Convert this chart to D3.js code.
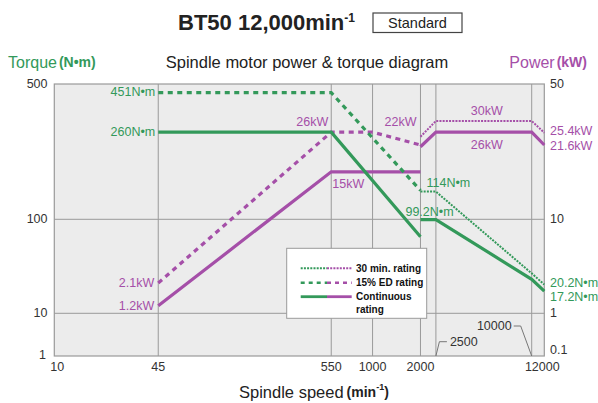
<!DOCTYPE html>
<html>
<head>
<meta charset="utf-8">
<script src="https://cdn.jsdelivr.net/npm/d3@7"></script>
<style>
  body { margin: 0; background: #fff; }
  svg { font-family: "Liberation Sans", Arial, sans-serif; }
</style>
</head>
<body>
<div class="chart"></div>
<script>
// axis ticks
const speedTicks = [10, 45, 550, 1000, 2000, 12000];
const gridSpeeds = [45, 550, 1000, 2000, 2500, 10000];
const torqueTicks = [500, 100, 10, 1];
const powerTicks = [50, 10, 1, 0.1];

// series [speed, value]
const torque30min = [[2000, 139], [2500, 139], [10000, 26.6], [12000, 20.2]];
const torqueED15 = [[45, 451], [550, 451], [2000, 141]];
const torqueContLow = [[45, 282], [550, 282], [2000, 65.3]];
const torqueContHigh = [[2000, 99.2], [2500, 99.2], [10000, 23], [12000, 17.2]];
const power30min = [[2000, 26.7], [2500, 32.2], [10000, 32.2], [12000, 28.0]];
const powerED15 = [[45, 2.1], [550, 28.2], [1000, 28.2], [2000, 24.2]];
const powerContLow = [[45, 1.2], [550, 17.6], [2000, 17.6]];
const powerContHigh = [[2000, 23.7], [2500, 28.2], [10000, 28.2], [12000, 24.2]];

const green = "#33995a";
const purple = "#a54fa8";

const W = 598, H = 403;
const plotL = 54.3, plotR = 544.3, plotT = 84, plotB = 356;

const svg = d3.select(".chart").append("svg")
  .attr("width", W).attr("height", H);

// x is log, y is a stretched log (each decade has its own height)
const x = d3.scaleLog().domain([10, 12000]).range([plotL, plotR]);
const yTl = d3.scaleLinear().domain([0, 1, 2, Math.log10(500)]).range([plotB, 313.3, 219.3, plotT]);
const yPl = d3.scaleLinear().domain([-1, 0, 1, Math.log10(50)]).range([plotB, 313.3, 219.3, plotT]);
const yT = v => yTl(Math.log10(v));
const yP = v => yPl(Math.log10(v));

// plot area
svg.append("rect")
  .attr("x", plotL).attr("y", plotT)
  .attr("width", plotR - plotL).attr("height", plotB - plotT)
  .attr("fill", "#ececec").attr("stroke", "#9a9a9a").attr("stroke-width", 1.2);

svg.selectAll(".vgrid").data(gridSpeeds).enter().append("line")
  .attr("x1", d => x(d)).attr("x2", d => x(d))
  .attr("y1", plotT).attr("y2", plotB)
  .attr("stroke", "#9a9a9a").attr("stroke-width", 1);

svg.selectAll(".hgrid").data([100, 10]).enter().append("line")
  .attr("x1", plotL).attr("x2", plotR)
  .attr("y1", d => yT(d)).attr("y2", d => yT(d))
  .attr("stroke", "#9a9a9a").attr("stroke-width", 1);

// axes labels
const tickFont = "12.5px";
svg.selectAll(".tl").data(torqueTicks).enter().append("text")
  .attr("x", d => d === 1 ? 46 : 47.5).attr("y", d => yT(d) - (d === 1 ? 1 : 0))
  .attr("text-anchor", "end").attr("dominant-baseline", "central")
  .attr("font-size", tickFont).attr("fill", "#333").text(d => d);

svg.selectAll(".tr").data(powerTicks).enter().append("text")
  .attr("x", 550).attr("y", d => yP(d) - (d === 0.1 ? 6 : 0))
  .attr("dominant-baseline", "central")
  .attr("font-size", tickFont).attr("fill", "#333").text(d => d);

svg.selectAll(".tx").data(speedTicks).enter().append("text")
  .attr("x", d => x(d) + (d === 10 ? 3 : 0) - (d === 12000 ? 2 : 0)).attr("y", 367)
  .attr("text-anchor", "middle").attr("dominant-baseline", "central")
  .attr("font-size", tickFont).attr("fill", "#333").text(d => d);

// leader labels for 2500 and 10000
const leaderColor = "#777";
svg.append("path")
  .attr("d", d3.line()([[x(2500), plotB], [x(2500) + 3.5, 341.7], [x(2500) + 11, 341.7]]))
  .attr("fill", "none").attr("stroke", leaderColor).attr("stroke-width", 1);
svg.append("text").attr("x", x(2500) + 14).attr("y", 341.7)
  .attr("dominant-baseline", "central").attr("font-size", tickFont).attr("fill", "#333").text("2500");
svg.append("path")
  .attr("d", d3.line()([[x(10000), plotB], [x(10000) - 11, 326], [x(10000) - 18, 326]]))
  .attr("fill", "none").attr("stroke", leaderColor).attr("stroke-width", 1);
svg.append("text").attr("x", x(10000) - 20).attr("y", 326)
  .attr("text-anchor", "end").attr("dominant-baseline", "central")
  .attr("font-size", tickFont).attr("fill", "#333").text("10000");

// lines
const lineT = d3.line().x(d => x(d[0])).y(d => yT(d[1]));
const lineP = d3.line().x(d => x(d[0])).y(d => yP(d[1]));

const styles = {
  cont: { w: 3.2, dash: null },
  ed: { w: 3.2, dash: "5,4.5" },
  min30: { w: 2, dash: "2,1.2" }
};

function draw(data, gen, color, s) {
  svg.append("path").attr("d", gen(data))
    .attr("fill", "none").attr("stroke", color)
    .attr("stroke-width", s.w).attr("stroke-dasharray", s.dash);
}

draw(powerED15, lineP, purple, styles.ed);
draw(power30min, lineP, purple, styles.min30);
draw(powerContLow, lineP, purple, styles.cont);
draw(powerContHigh, lineP, purple, styles.cont);
draw(torqueED15, lineT, green, styles.ed);
draw(torque30min, lineT, green, styles.min30);
draw(torqueContLow, lineT, green, styles.cont);
draw(torqueContHigh, lineT, green, styles.cont);

// value annotations
const labFont = "12.5px";
function lab(txt, px, py, anchor, color) {
  svg.append("text").attr("x", px).attr("y", py)
    .attr("text-anchor", anchor).attr("dominant-baseline", "central")
    .attr("font-size", labFont).attr("fill", color).text(txt);
}
lab("451N•m", x(45) - 3, yT(451) - 1, "end", green);
lab("260N•m", x(45) - 3, yT(282), "end", green);
lab("2.1kW", x(45) - 4, yP(2.1), "end", purple);
lab("1.2kW", x(45) - 4, yP(1.2), "end", purple);
lab("26kW", x(550) - 3, yP(28.2) - 10, "end", purple);
lab("15kW", x(550) + 1, yP(17.6) + 12, "start", purple);
lab("22kW", x(2000) - 4, yP(28.2) - 10, "end", purple);
lab("114N•m", x(2000) + 6, yT(139) - 8.5, "start", green);
lab("99.2N•m", x(2000) - 15, yT(99.2) - 8, "start", green);
lab("30kW", (x(2500) + x(10000)) / 2 + 3, yP(32.2) - 9.5, "middle", purple);
lab("26kW", (x(2500) + x(10000)) / 2 + 3, yP(28.2) + 12.5, "middle", purple);
lab("25.4kW", 550, 131, "start", purple);
lab("21.6kW", 550, 146, "start", purple);
lab("20.2N•m", 550, 283, "start", green);
lab("17.2N•m", 550, 297, "start", green);

// legend
const lg = svg.append("g");
lg.append("rect").attr("x", 286.7).attr("y", 248.3).attr("width", 140).attr("height", 70)
  .attr("fill", "#fff").attr("stroke", "#9a9a9a").attr("stroke-width", 1);
const legendRows = [
  { key: "min30", label: ["30 min. rating"], y: 268.3 },
  { key: "ed", label: ["15% ED rating"], y: 282.7 },
  { key: "cont", label: ["Continuous", "rating"], y: 296.7 }
];
legendRows.forEach(r => {
  const s = styles[r.key];
  const w = r.key === "cont" ? 2.8 : (r.key === "ed" ? 2.6 : 2);
  const dash = r.key === "ed" ? "4,4" : s.dash;
  lg.append("line").attr("x1", 300.7).attr("x2", 327).attr("y1", r.y).attr("y2", r.y)
    .attr("stroke", green).attr("stroke-width", w).attr("stroke-dasharray", dash);
  lg.append("line").attr("x1", 327).attr("x2", 351.7).attr("y1", r.y).attr("y2", r.y)
    .attr("stroke", purple).attr("stroke-width", w).attr("stroke-dasharray", dash);
  r.label.forEach((t, i) => {
    lg.append("text").attr("x", 356).attr("y", r.y + i * 12.6)
      .attr("dominant-baseline", "central").attr("font-size", "10px")
      .attr("font-weight", "bold").attr("fill", "#111").text(t);
  });
});

// titles
const title = svg.append("text").attr("x", 178).attr("y", 30)
  .attr("font-size", "22px").attr("font-weight", "bold").attr("fill", "#222");
title.append("tspan").text("BT50 12,000min");
title.append("tspan").attr("font-size", "12px").attr("dy", -8).text("-1");

svg.append("rect").attr("x", 373).attr("y", 13).attr("width", 89).attr("height", 19.5)
  .attr("fill", "#fff").attr("stroke", "#444").attr("stroke-width", 1.2);
svg.append("text").attr("x", 417.5).attr("y", 23).attr("text-anchor", "middle")
  .attr("dominant-baseline", "central").attr("font-size", "14.5px").attr("fill", "#222").text("Standard");

const tq = svg.append("text").attr("x", 8).attr("y", 62).attr("dominant-baseline", "central")
  .attr("fill", green).attr("font-size", "16px");
tq.append("tspan").text("Torque");
tq.append("tspan").attr("font-weight", "bold").attr("font-size", "14px").attr("dx", 2).text("(N•m)");

svg.append("text").attr("x", 307).attr("y", 62).attr("text-anchor", "middle")
  .attr("dominant-baseline", "central").attr("font-size", "16.5px").attr("fill", "#222")
  .text("Spindle motor power & torque diagram");

const pw = svg.append("text").attr("x", 587).attr("y", 62).attr("text-anchor", "end")
  .attr("dominant-baseline", "central").attr("fill", purple).attr("font-size", "16px");
pw.append("tspan").text("Power");
pw.append("tspan").attr("font-weight", "bold").attr("font-size", "14px").attr("dx", 2).text("(kW)");

const xt = svg.append("text").attr("x", 239).attr("y", 392).attr("dominant-baseline", "central")
  .attr("fill", "#222").attr("font-size", "16.5px");
xt.append("tspan").text("Spindle speed");
xt.append("tspan").attr("font-weight", "bold").attr("font-size", "14px").attr("dx", 3).text("(min");
xt.append("tspan").attr("font-weight", "bold").attr("font-size", "9px").attr("dy", -5).text("-1");
xt.append("tspan").attr("font-weight", "bold").attr("font-size", "14px").attr("dy", 5).text(")");
</script>
</body>
</html>
